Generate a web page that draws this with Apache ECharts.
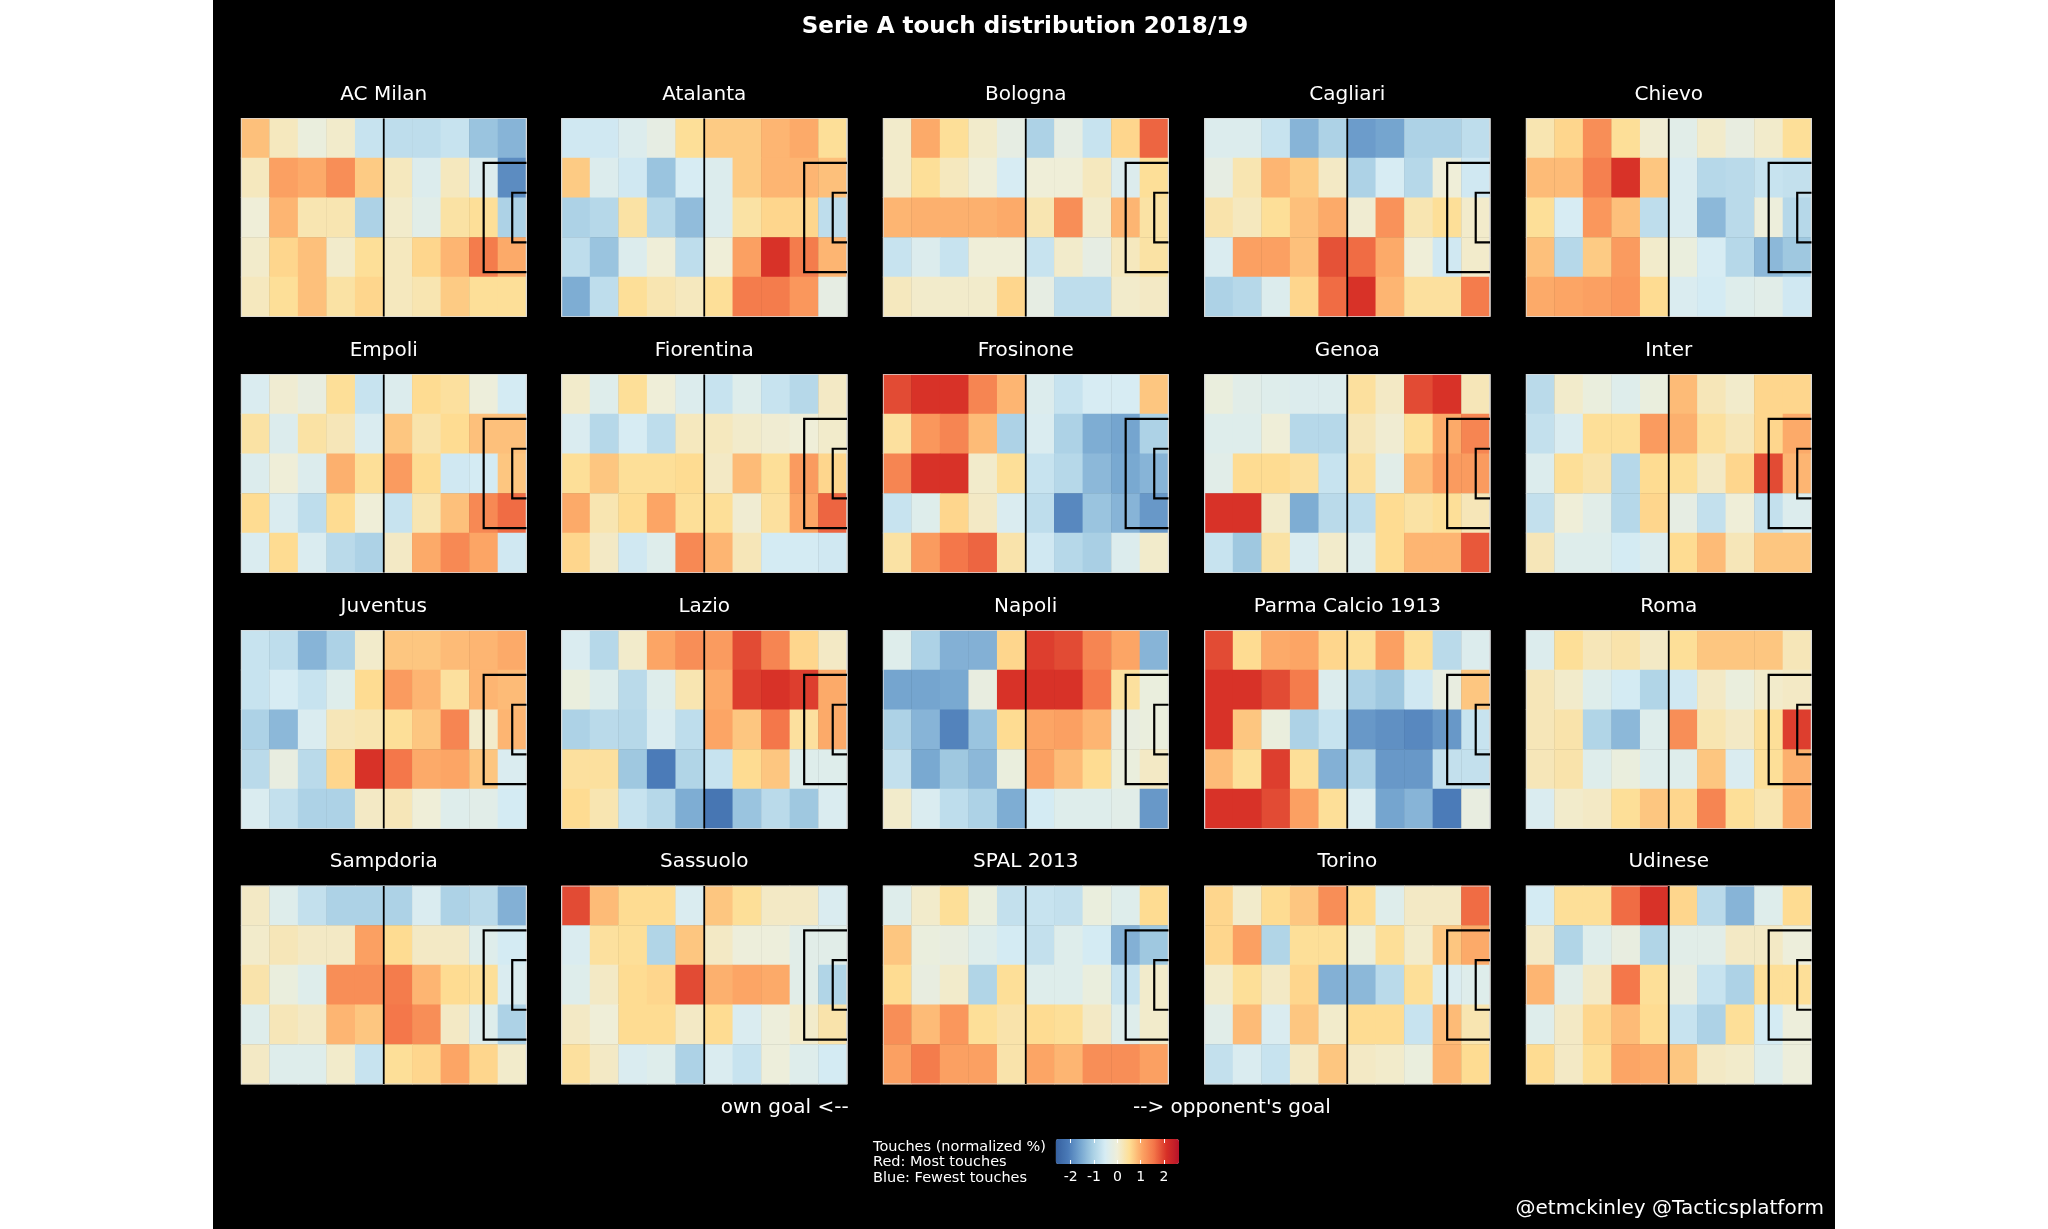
<!DOCTYPE html>
<html>
<head>
<meta charset="utf-8">
<script src="https://cdn.jsdelivr.net/npm/echarts@6/dist/echarts.min.js"></script>
<style>
html,body{margin:0;padding:0;background:#fff;}
#bg{position:absolute;left:213px;top:0;width:1622px;height:1229px;background:#000;}
#chart{position:absolute;left:0;top:0;width:2048px;height:1229px;}
</style>
</head>
<body>
<div id="bg"></div>
<div id="chart"></div>
<script>
// ---- data ----
const xCells = ['1','2','3','4','5','6','7','8','9','10'];
const yCells = ['1','2','3','4','5'];
const teamNames = ['AC Milan','Atalanta','Bologna','Cagliari','Chievo',
  'Empoli','Fiorentina','Frosinone','Genoa','Inter',
  'Juventus','Lazio','Napoli','Parma Calcio 1913','Roma',
  'Sampdoria','Sassuolo','SPAL 2013','Torino','Udinese'];

const acMilan = [
  [0.8, 0.2, -0.1, 0.1, -0.7, -0.8, -0.8, -0.7, -1.2, -1.4],
  [0.2, 1.1, 1.0, 1.3, 0.7, 0.2, -0.4, 0.2, -0.4, -1.9],
  [0.0, 0.9, 0.3, 0.3, -1.0, 0.1, -0.3, 0.4, 0.5, -1.0],
  [0.1, 0.6, 0.8, 0.1, 0.5, 0.2, 0.6, 0.9, 1.5, 1.0],
  [0.2, 0.5, 0.8, 0.4, 0.6, 0.2, 0.3, 0.7, 0.5, 0.5]];
const atalanta = [
  [-0.6, -0.6, -0.4, -0.2, 0.5, 0.7, 0.7, 0.9, 1.0, 0.5],
  [0.7, -0.4, -0.6, -1.2, -0.5, -0.4, 0.7, 0.9, 0.9, 0.8],
  [-1.0, -0.9, 0.4, -0.9, -1.3, -0.4, 0.4, 0.6, 0.6, -0.8],
  [-0.8, -1.2, -0.4, 0.0, -0.8, 0.0, 1.1, 2.1, 1.5, 0.9],
  [-1.5, -0.8, 0.5, 0.3, 0.2, 0.5, 1.5, 1.5, 1.2, -0.2]];
const bologna = [
  [0.1, 1.0, 0.5, 0.1, -0.2, -1.0, -0.2, -0.7, 0.6, 1.7],
  [0.1, 0.5, 0.2, 0.0, -0.5, 0.0, 0.0, 0.2, -0.4, 0.5],
  [0.9, 0.95, 0.95, 0.95, 1.0, 0.3, 1.3, 0.1, 0.9, 0.4],
  [-0.7, -0.4, -0.7, 0.0, 0.0, -0.7, 0.1, -0.2, 0.2, 0.4],
  [0.2, 0.1, 0.1, 0.1, 0.6, -0.2, -0.8, -0.8, 0.1, 0.15]];
const cagliari = [
  [-0.4, -0.4, -0.7, -1.4, -1.0, -1.7, -1.6, -1.0, -1.0, -0.8],
  [-0.2, 0.3, 0.9, 0.7, 0.15, -1.0, -0.5, -0.9, 0.0, -0.6],
  [0.35, 0.2, 0.5, 0.8, 1.0, 0.05, 1.25, 0.3, 0.5, 0.1],
  [-0.45, 1.1, 1.1, 0.8, 1.85, 1.65, 1.0, 0.0, -0.6, 0.1],
  [-1.0, -0.9, -0.4, 0.6, 1.65, 2.1, 0.9, 0.45, 0.45, 1.5]];
const chievo = [
  [0.3, 0.6, 1.3, 0.5, 0.05, -0.3, 0.1, -0.15, 0.1, 0.5],
  [0.85, 0.85, 1.45, 2.1, 0.75, -0.45, -0.9, -0.85, -0.7, -0.75],
  [0.5, -0.5, 1.2, 0.8, -0.8, -0.45, -1.35, -0.85, -0.05, -0.9],
  [0.8, -0.9, 0.7, 1.15, 0.1, -0.1, -0.5, -0.9, -1.35, -1.15],
  [1.0, 1.05, 1.1, 1.2, 0.55, -0.45, -0.55, -0.35, -0.3, -0.6]];
const empoli = [
  [-0.45, 0.05, -0.15, 0.5, -0.7, -0.4, 0.55, 0.45, -0.05, -0.55],
  [0.4, -0.4, 0.4, 0.25, -0.45, 0.75, 0.35, 0.55, 0.8, 0.8],
  [-0.4, 0.0, -0.4, 0.95, 0.5, 1.15, 0.55, -0.6, -0.55, 0.75],
  [0.55, -0.45, -0.8, 0.55, 0.0, -0.7, 0.3, 0.8, 1.35, 1.65],
  [-0.45, 0.55, -0.45, -0.85, -1.0, 0.15, 1.0, 1.35, 1.05, -0.6]];
const fiorentina = [
  [0.1, -0.35, 0.5, 0.0, -0.4, -0.7, -0.35, -0.7, -0.9, 0.15],
  [-0.45, -0.9, -0.5, -0.8, 0.2, 0.2, 0.1, 0.05, 0.0, 0.1],
  [0.5, 0.75, 0.5, 0.5, 0.55, 0.15, 0.85, 0.5, 1.15, 0.6],
  [1.0, 0.3, 0.55, 1.05, 0.5, 0.5, 0.05, 0.45, 1.05, 1.7],
  [0.6, 0.15, -0.6, -0.35, 1.35, 0.9, 0.25, -0.55, -0.55, -0.6]];
const frosinone = [
  [1.9, 2.1, 2.1, 1.4, 0.9, -0.4, -0.7, -0.5, -0.5, 0.75],
  [0.45, 1.2, 1.4, 0.85, -1.0, -0.45, -1.0, -1.5, -1.6, -1.0],
  [1.4, 2.1, 2.1, 0.1, 0.5, -0.7, -0.9, -1.35, -1.55, -1.4],
  [-0.7, -0.35, 0.6, 0.15, -0.45, -0.8, -1.95, -1.2, -1.4, -1.75],
  [0.4, 1.15, 1.55, 1.7, 0.35, -0.6, -0.9, -1.05, -0.4, 0.1]];
const genoa = [
  [-0.1, -0.3, -0.35, -0.4, -0.4, 0.45, 0.15, 1.9, 2.1, 0.25],
  [-0.35, -0.35, 0.0, -0.9, -0.9, 0.25, 0.05, 0.5, 1.0, 1.4],
  [-0.3, 0.55, 0.55, 0.45, -0.7, 0.45, -0.3, 0.85, 1.15, 1.15],
  [2.1, 2.1, 0.1, -1.5, -0.85, -0.8, 0.55, 0.4, 0.5, 0.25],
  [-0.7, -1.15, 0.4, -0.45, 0.1, -0.4, 0.55, 0.9, 0.9, 1.8]];
const inter = [
  [-0.85, 0.1, -0.1, -0.35, -0.1, 0.85, 0.25, 0.1, 0.6, 0.6],
  [-0.75, -0.45, 0.5, 0.5, 1.15, 0.95, 0.45, 0.25, 0.6, 1.0],
  [-0.4, 0.5, 0.35, -0.9, 0.55, 0.5, 0.15, 0.6, 1.9, 0.9],
  [-0.75, 0.0, -0.3, -0.9, 0.6, -0.2, -0.75, 0.0, -0.75, -0.4],
  [0.25, -0.35, -0.35, -0.55, -0.4, 0.55, 0.85, 0.25, 0.75, 0.75]];
const juventus = [
  [-0.7, -0.8, -1.4, -1.0, 0.1, 0.75, 0.75, 0.85, 0.9, 1.0],
  [-0.7, -0.5, -0.7, -0.35, 0.55, 1.15, 0.9, 0.45, 0.9, 0.85],
  [-1.0, -1.35, -0.45, 0.25, 0.3, 0.5, 0.75, 1.4, 0.1, 0.9],
  [-0.85, -0.15, -0.85, 0.6, 2.1, 1.55, 1.0, 1.05, 0.75, -0.45],
  [-0.45, -0.75, -1.0, -1.0, 0.15, 0.25, 0.0, -0.35, -0.3, -0.55]];
const lazio = [
  [-0.45, -0.9, 0.1, 1.05, 1.3, 1.15, 1.9, 1.4, 0.6, 0.15],
  [-0.1, -0.35, -0.85, -0.35, 0.3, 1.0, 2.0, 2.1, 2.0, 1.0],
  [-1.0, -0.85, -0.9, -0.45, -0.8, 1.05, 0.75, 1.55, 0.45, 1.0],
  [0.45, 0.45, -1.15, -2.1, -0.95, -0.7, 0.55, 0.75, -0.35, -0.35],
  [0.55, 0.3, -0.7, -0.9, -1.5, -2.2, -1.2, -0.85, -1.15, -0.45]];
const napoli = [
  [-0.35, -1.0, -1.45, -1.45, 0.6, 2.0, 1.9, 1.4, 1.05, -1.4],
  [-1.6, -1.6, -1.55, -0.15, 2.1, 2.1, 2.1, 1.55, 0.45, -0.1],
  [-1.0, -1.4, -2.0, -1.2, 0.55, 1.05, 1.1, 0.9, -0.15, -0.1],
  [-0.75, -1.55, -1.15, -1.35, -0.1, 1.1, 0.85, 0.55, -0.1, 0.15],
  [0.1, -0.45, -0.8, -1.0, -1.5, -0.55, -0.35, -0.35, -0.3, -1.75]];
const parma = [
  [1.9, 0.55, 1.0, 1.05, 0.6, 0.5, 1.1, 0.5, -0.85, -0.4],
  [2.1, 2.1, 1.9, 1.5, -0.4, -1.0, -1.15, -0.6, -0.15, 0.75],
  [2.1, 0.75, -0.1, -1.0, -0.7, -1.75, -1.85, -1.95, -1.75, -0.7],
  [0.85, 0.5, 2.0, 0.5, -1.45, -1.0, -1.75, -1.75, -0.75, -0.75],
  [2.1, 2.1, 1.9, 1.1, 0.5, -0.45, -1.6, -1.4, -2.1, -0.15]];
const roma = [
  [-0.4, 0.5, 0.25, 0.35, 0.15, 0.5, 0.75, 0.75, 0.75, 0.25],
  [0.25, 0.1, -0.35, -0.55, -0.95, -0.6, 0.15, -0.1, 0.1, 0.15],
  [0.25, 0.35, -0.95, -1.35, -0.35, 1.3, 0.3, 0.15, 0.5, 2.0],
  [0.25, 0.35, -0.35, -0.1, -0.35, -0.35, 0.75, -0.45, 0.5, 0.95],
  [-0.45, 0.1, 0.15, 0.5, 0.75, 0.6, 1.4, 0.5, 0.3, 1.0]];
const sampdoria = [
  [0.15, -0.35, -0.75, -1.0, -1.0, -1.0, -0.45, -1.0, -0.85, -1.45],
  [0.1, 0.25, 0.15, 0.15, 1.1, 0.55, 0.15, 0.15, -0.35, -0.55],
  [0.35, -0.1, -0.35, 1.3, 1.3, 1.5, 0.9, 0.55, 0.5, -0.45],
  [-0.35, 0.25, 0.15, 0.9, 0.75, 1.55, 1.3, 0.15, -0.35, -1.0],
  [0.15, -0.35, -0.35, 0.1, -0.7, 0.5, 0.6, 1.05, 0.6, 0.1]];
const sassuolo = [
  [1.9, 0.85, 0.55, 0.55, -0.45, 0.75, 0.5, 0.15, 0.15, -0.45],
  [-0.45, 0.45, 0.5, -0.95, 0.75, 0.15, -0.05, -0.05, -0.3, -0.3],
  [-0.35, 0.15, 0.55, 0.6, 1.9, 0.95, 1.05, 1.0, -0.3, -0.95],
  [0.15, 0.0, 0.55, 0.55, 0.15, 0.55, -0.45, -0.05, 0.1, 0.35],
  [0.45, 0.15, -0.45, -0.35, -1.0, -0.45, -0.7, -0.05, -0.35, -0.55]];
const spal = [
  [-0.35, 0.1, 0.5, -0.1, -0.75, -0.7, -0.75, -0.1, -0.35, 0.55],
  [0.75, -0.1, -0.15, -0.35, -0.55, -0.75, -0.35, -0.55, -1.45, -1.15],
  [0.55, -0.15, 0.1, -0.95, 0.5, -0.35, -0.35, -0.1, -0.7, 0.1],
  [1.3, 0.85, 1.2, 0.5, 0.35, 0.55, 0.5, 0.15, -0.35, 0.1],
  [1.1, 1.5, 1.1, 1.1, 0.35, 1.05, 0.9, 1.3, 1.3, 1.1]];
const torino = [
  [0.6, 0.1, 0.55, 0.75, 1.3, 0.55, -0.35, 0.15, 0.15, 1.65],
  [0.6, 1.1, -0.95, 0.5, 0.5, -0.1, 0.5, 0.1, 0.75, 1.0],
  [0.1, 0.5, 0.15, 0.6, -1.45, -1.35, -0.85, 0.5, -0.45, -0.35],
  [-0.3, 0.85, -0.45, 0.75, 0.1, 0.55, 0.55, -0.7, 0.85, 0.3],
  [-0.75, -0.45, -0.7, 0.15, 0.75, 0.15, 0.1, -0.1, 0.9, 0.55]];
const udinese = [
  [-0.55, 0.5, 0.5, 1.65, 2.1, 0.6, -0.85, -1.4, -0.35, 0.55],
  [0.15, -0.95, -0.35, -0.15, -0.95, -0.3, -0.3, 0.15, 0.15, -0.05],
  [0.9, -0.3, 0.15, 1.55, 0.5, -0.15, -0.7, -1.0, 0.5, 0.5],
  [-0.35, 0.15, 0.6, 0.85, 0.55, -0.7, -1.0, 0.5, -0.55, -0.05],
  [0.55, 0.15, 0.5, 1.05, 1.0, 0.75, 0.15, 0.1, -0.35, -0.05]];

const teamGrids = [acMilan, atalanta, bologna, cagliari, chievo,
  empoli, fiorentina, frosinone, genoa, inter,
  juventus, lazio, napoli, parma, roma,
  sampdoria, sassuolo, spal, torino, udinese];

const colorTicks = [-2, -1, 0, 1, 2];
const colorMin = -2.64, colorMax = 2.64;

// pitch markings in pitch units (120 x 80)
const pitchOutline = [[0,0],[120,0],[120,80],[0,80],[0,0]];
const halfwayLine = [[60,0],[60,80]];
const penaltyBox = [[120,18],[102,18],[102,62],[120,62]];
const sixYardBox = [[120,30],[114,30],[114,50],[120,50]];

// ---- layout ----
const colLeft = [241, 561.5, 883, 1204.5, 1526];
const rowTop = [118.3, 374.3, 630.3, 885.7];
const cellW = 285.5, cellH = 198.5;
const FONT = '"DejaVu Sans", Verdana, sans-serif';

const grids = [], xAxes = [], yAxes = [], series = [], graphics = [];
const heatIdx = [];

teamGrids.forEach((g, i) => {
  const c = i % 5, r = Math.floor(i / 5);
  grids.push({left: colLeft[c], top: rowTop[r], width: cellW, height: cellH, containLabel: false});
  xAxes.push({gridIndex: i, type: 'category', data: xCells, show: false, boundaryGap: true});
  xAxes.push({gridIndex: i, type: 'value', min: 0, max: 120, show: false});
  yAxes.push({gridIndex: i, type: 'category', data: yCells, show: false, inverse: true, boundaryGap: true});
  yAxes.push({gridIndex: i, type: 'value', min: 0, max: 80, show: false, inverse: true});
  const data = [];
  g.forEach((row, ri) => row.forEach((v, ci) => data.push([ci, ri, v])));
  heatIdx.push(series.length);
  series.push({
    type: 'heatmap', xAxisIndex: 2 * i, yAxisIndex: 2 * i, data: data,
    silent: true, emphasis: {disabled: true}, itemStyle: {borderWidth: 0}, z: 2
  });
  series.push({
    type: 'lines', coordinateSystem: 'cartesian2d', xAxisIndex: 2 * i + 1, yAxisIndex: 2 * i + 1,
    polyline: true, silent: true, z: 5,
    lineStyle: {opacity: 1, curveness: 0},
    data: [
      {coords: pitchOutline, lineStyle: {color: '#d8d8d8', width: 1.5, opacity: 1}},
      {coords: halfwayLine, lineStyle: {color: '#000', width: 1.8, opacity: 1}},
      {coords: penaltyBox, lineStyle: {color: '#000', width: 2.2, opacity: 1}},
      {coords: sixYardBox, lineStyle: {color: '#000', width: 2.2, opacity: 1}}
    ]
  });
  graphics.push({
    type: 'text', x: colLeft[c] + cellW / 2, y: rowTop[r] - 23.5,
    style: {text: teamNames[i], fill: '#fff', font: '20px ' + FONT, textAlign: 'center', textVerticalAlign: 'middle'}
  });
});

// colorbar tick axis grid
const cbGrid = grids.length;
grids.push({left: 1055.7, top: 1139, width: 123.3, height: 25});
xAxes.push({
  gridIndex: cbGrid, type: 'value', min: colorMin, max: colorMax, position: 'bottom', z: 10,
  axisLine: {show: false}, splitLine: {show: false},
  axisTick: {show: true, inside: true, length: 4, lineStyle: {color: '#fff', width: 1}, customValues: colorTicks},
  axisLabel: {show: true, color: '#fff', fontSize: 14, fontFamily: FONT, margin: 6, customValues: colorTicks}
});
xAxes.push({
  gridIndex: cbGrid, type: 'value', min: colorMin, max: colorMax, position: 'top', z: 10,
  axisLine: {show: false}, splitLine: {show: false},
  axisTick: {show: true, inside: true, length: 4, lineStyle: {color: '#fff', width: 1}, customValues: colorTicks},
  axisLabel: {show: false}
});
yAxes.push({gridIndex: cbGrid, type: 'value', show: false});

graphics.push(
  {type: 'text', x: 1025, y: 27.5, style: {text: 'Serie A touch distribution 2018/19', fill: '#fff', font: 'bold 23px ' + FONT, textAlign: 'center', textVerticalAlign: 'middle'}},
  {type: 'text', x: 720.7, y: 1108, style: {text: 'own goal <--', fill: '#fff', font: '20px ' + FONT, textAlign: 'left', textVerticalAlign: 'middle'}},
  {type: 'text', x: 1133, y: 1108, style: {text: "--> opponent's goal", fill: '#fff', font: '20px ' + FONT, textAlign: 'left', textVerticalAlign: 'middle'}},
  {type: 'text', x: 873, y: 1147, style: {text: 'Touches (normalized %)', fill: '#fff', font: '14.5px ' + FONT, textAlign: 'left', textVerticalAlign: 'middle'}},
  {type: 'text', x: 873, y: 1162.5, style: {text: 'Red: Most touches', fill: '#fff', font: '14.5px ' + FONT, textAlign: 'left', textVerticalAlign: 'middle'}},
  {type: 'text', x: 873, y: 1178, style: {text: 'Blue: Fewest touches', fill: '#fff', font: '14.5px ' + FONT, textAlign: 'left', textVerticalAlign: 'middle'}},
  {type: 'text', x: 1824, y: 1209, style: {text: '@etmckinley @Tacticsplatform', fill: '#fff', font: '20px ' + FONT, textAlign: 'right', textVerticalAlign: 'middle'}}
);

const chart = echarts.init(document.getElementById('chart'), null, {renderer: 'canvas'});
chart.setOption({
  backgroundColor: 'transparent',
  animation: false,
  grid: grids,
  xAxis: xAxes,
  yAxis: yAxes,
  visualMap: {
    type: 'continuous', min: colorMin, max: colorMax, seriesIndex: heatIdx,
    orient: 'horizontal', left: 1055.7, top: 1139, itemWidth: 25, itemHeight: 123.3,
    calculable: false, realtime: false, padding: 0, show: true, hoverLink: false,
    inRange: {color: ['#36609f', '#4a7ab7', '#76a6d0', '#a8cfe4', '#d6ecf4', '#efeed8',
                      '#fede94', '#fca464', '#f37448', '#d73027', '#b8132a']},
    textStyle: {color: '#fff'}
  },
  series: series,
  graphic: graphics
});
</script>
</body>
</html>
